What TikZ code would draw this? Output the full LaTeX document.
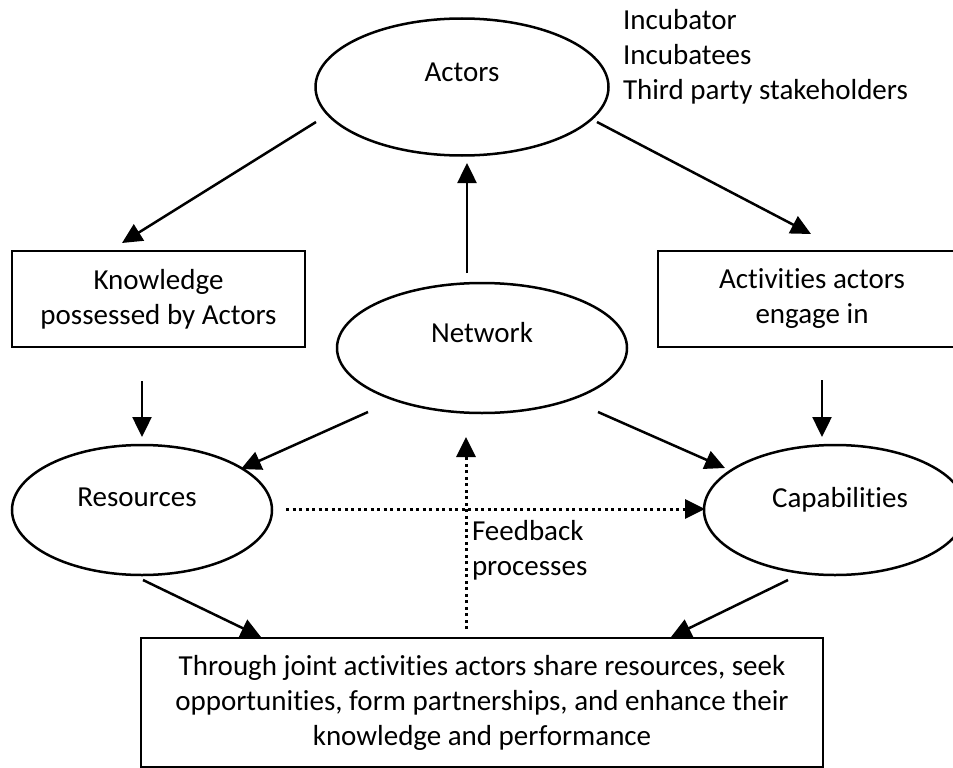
\documentclass[tikz,border=0pt]{standalone}
\usepackage{fontspec}
\setmainfont{Carlito}[Ligatures=NoCommon]
\usetikzlibrary{arrows.meta,shapes.geometric,calc}
\begin{document}
\begin{tikzpicture}[x=1pt,y=-1pt,
  every node/.style={font=\fontsize{29}{35}\selectfont, inner sep=0pt, outer sep=0pt},
  ell/.style={draw, ellipse, line width=2.5pt},
  boxnode/.style={draw, rectangle, line width=2.5pt, align=center},
  arr/.style={line width=2.5pt, -{Triangle[length=20pt,width=19pt]}},
  dotarr/.style={line width=3pt, dash pattern=on 3pt off 3.5pt, -{Triangle[length=20pt,width=19pt]}}]
\useasboundingbox (0,0) rectangle (953,768);
\clip (0,0) rectangle (953,768);

% ellipses
\node[ell, minimum width=293pt, minimum height=137pt, label={[yshift=15pt]center:Actors}] (actors) at (462,87) {};
\node[ell, minimum width=290pt, minimum height=130pt, label={[yshift=15pt]center:Network}] (network) at (482,348) {};
\node[ell, minimum width=260pt, minimum height=130pt, label={[yshift=13pt,xshift=-5pt]center:Resources}] (resources) at (142,510) {};
\node[ell, minimum width=262pt, minimum height=130pt, label={[yshift=10pt,xshift=5pt]center:Capabilities}] (capabilities) at (835,510) {};

% boxes
\node[boxnode, minimum width=293pt, minimum height=96pt] (knowledge) at (158.5,299) {Knowledge\\possessed by Actors};
\node[boxnode, minimum width=308pt, minimum height=96pt] (activities) at (812,299) {Activities actors\\engage in};
\node[boxnode, minimum width=682pt, minimum height=129pt] (bottom) at (482,702.5) {Through joint activities actors share resources, seek\\opportunities, form partnerships, and enhance their\\knowledge and performance};

% free texts
\node[anchor=west, align=left] (list) at (623,57) {Incubator\\Incubatees\\Third party stakeholders};
\node[anchor=west, align=left] (fb) at (472,550) {Feedback\\processes};

% arrows
\draw[arr] ($(actors.center)+(-146,35)$) -- ($(knowledge.center)+(-36.5,-56)$);
\draw[arr] ($(actors.center)+(135,35)$) -- ($(activities.center)+(-1,-65)$);
\draw[arr] ($(network.center)+(-15,-75)$) -- ($(actors.center)+(5,76)$);
\draw[arr] ($(knowledge.center)+(-16.5,82)$) -- ($(resources.center)+(0,-73)$);
\draw[arr] ($(activities.center)+(10,81)$) -- ($(capabilities.center)+(-13,-73)$);
\draw[arr] ($(network.center)+(-114,64)$) -- ($(resources.center)+(99,-41)$);
\draw[arr] ($(network.center)+(116,64)$) -- ($(capabilities.center)+(-110,-42)$);
\draw[arr] ($(resources.center)+(1,70)$) -- ($(bottom.center)+(-221,-65.5)$);
\draw[arr] ($(capabilities.center)+(-47,70)$) -- ($(bottom.center)+(189,-65.5)$);
\draw[dotarr] ($(resources.center)+(144,-1)$) -- ($(capabilities.center)+(-130,-1)$);
\draw[dotarr] ($(bottom.center)+(-16,-73.5)$) -- ($(network.center)+(-16,89)$);
\end{tikzpicture}
\end{document}
